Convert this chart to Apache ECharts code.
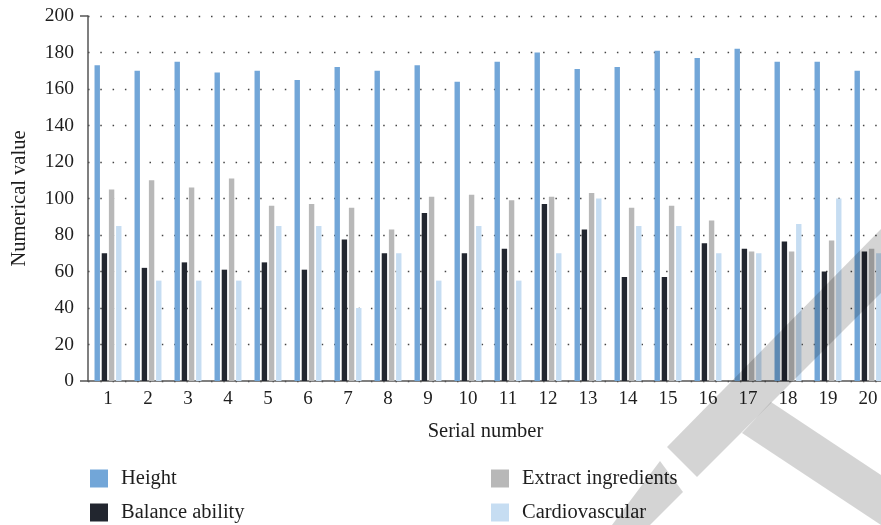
<!DOCTYPE html>
<html>
<head>
<meta charset="utf-8">
<title>Numerical value by serial number</title>
<script src="https://cdn.jsdelivr.net/npm/echarts@6/dist/echarts.min.js"></script>
<style>
  html, body { margin: 0; padding: 0; background: #ffffff; overflow: hidden; }
  /* the plot runs a little past the right edge of the window */
  #chart { width: 900px; height: 525px; }
</style>
</head>
<body>
<div id="chart"></div>
<script>
// Serial numbers 1..20
const categories = ['1','2','3','4','5','6','7','8','9','10','11','12','13','14','15','16','17','18','19','20'];

const seriesNames = ['Height', 'Balance ability', 'Extract ingredients', 'Cardiovascular'];

const heightValues = [173, 170, 175, 169, 170, 165, 172, 170, 173, 164, 175, 180, 171, 172, 181, 177, 182, 175, 175, 170];
const balanceValues = [70, 62, 65, 61, 65, 61, 77.5, 70, 92, 70, 72.5, 97, 83, 57, 57, 75.5, 72.5, 76.5, 60, 71];
const extractValues = [105, 110, 106, 111, 96, 97, 95, 83, 101, 102, 99, 101, 103, 95, 96, 88, 71, 71, 77, 72.5];
const cardioValues = [85, 55, 55, 55, 85, 85, 40, 70, 55, 85, 55, 70, 100, 85, 85, 70, 70, 86, 100, 70];

const yTicks = [0, 20, 40, 60, 80, 100, 120, 140, 160, 180, 200];

const palette = ['#72a6d8', '#22262f', '#b8b8b8', '#c6ddf2'];
const FONT = "'Liberation Serif', 'DejaVu Serif', serif";
const TEXT = '#1e1e1e';
const AXIS = '#555555';

const chart = echarts.init(document.getElementById('chart'), null, { renderer: 'canvas' });

function barSeries(name, values, color) {
  return {
    name: name,
    type: 'bar',
    yAxisIndex: 0,
    data: values,
    barWidth: 5.4,
    barGap: '33%',
    itemStyle: { color: color },
    emphasis: { disabled: true },
    animation: false
  };
}

function legendBlock(names, left) {
  return {
    data: names,
    orient: 'vertical',
    left: left,
    top: 468,
    padding: 0,
    icon: 'rect',
    itemWidth: 18,
    itemHeight: 18,
    itemGap: 13,
    textStyle: { fontFamily: FONT, fontSize: 20.5, lineHeight: 18, color: TEXT, padding: [0, 0, 0, 8] },
    selectedMode: false
  };
}

// Light grey stamp shapes laid over the lower right of the chart
const stampFill = 'rgba(0,0,0,0.17)';
const stampShapes = [
  [[667, 447], [881, 229], [881, 293], [697, 477]],
  [[742, 433], [771, 402], [881, 475], [881, 525]],
  [[660, 461], [683, 492], [650, 525], [612, 525]]
];

const option = {
  backgroundColor: '#ffffff',
  animation: false,
  textStyle: { fontFamily: FONT, color: TEXT },
  grid: { left: 88, right: 12, top: 16, bottom: 144, containLabel: false },
  legend: [
    legendBlock(seriesNames.slice(0, 2), 90),
    legendBlock(seriesNames.slice(2, 4), 491)
  ],
  xAxis: {
    type: 'category',
    data: categories,
    name: 'Serial number',
    nameLocation: 'middle',
    nameGap: 40,
    nameTextStyle: { fontFamily: FONT, fontSize: 20.5, color: TEXT, padding: [0, 5, 0, 0] },
    axisLine: { show: true, lineStyle: { color: AXIS, width: 1.5 } },
    axisTick: { show: false },
    axisLabel: { fontFamily: FONT, fontSize: 19, color: TEXT, margin: 9 },
    splitLine: { show: false }
  },
  yAxis: [
    {
      type: 'value',
      min: yTicks[0],
      max: yTicks[yTicks.length - 1],
      interval: 20,
      name: 'Numerical value',
      nameLocation: 'middle',
      nameGap: 58,
      nameTextStyle: { fontFamily: FONT, fontSize: 20.5, color: TEXT },
      axisLine: { show: true, lineStyle: { color: AXIS, width: 1.5 } },
      axisTick: { show: false },
      axisLabel: { fontFamily: FONT, fontSize: 19.5, color: TEXT, margin: 14 },
      splitLine: { show: true, lineStyle: { color: '#444444', width: 1.3, type: [1.5, 10.8] } }
    },
    {
      // end ticks at 0 and 200 only
      type: 'value',
      position: 'left',
      min: yTicks[0],
      max: yTicks[yTicks.length - 1],
      interval: 20,
      axisLine: { show: false },
      axisLabel: { show: false },
      splitLine: { show: false },
      axisTick: { show: true, customValues: [yTicks[0], yTicks[yTicks.length - 1]], length: 8, lineStyle: { color: AXIS, width: 1.5 } }
    }
  ],
  series: [
    barSeries(seriesNames[0], heightValues, palette[0]),
    barSeries(seriesNames[1], balanceValues, palette[1]),
    barSeries(seriesNames[2], extractValues, palette[2]),
    barSeries(seriesNames[3], cardioValues, palette[3])
  ],
  graphic: stampShapes.map(function (pts) {
    return {
      type: 'polygon',
      z: 100,
      silent: true,
      shape: { points: pts },
      style: { fill: stampFill }
    };
  })
};

chart.setOption(option);
</script>
</body>
</html>
